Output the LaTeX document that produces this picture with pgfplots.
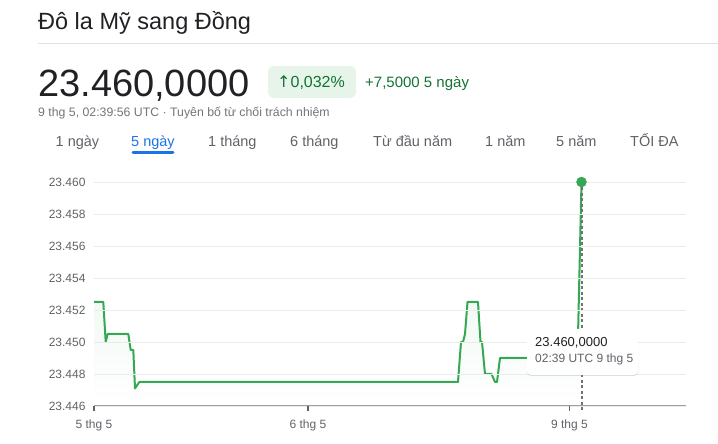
\documentclass[border=0pt]{standalone}
\usepackage{fontspec}
\setmainfont{Liberation Sans}
\newfontfamily\symfont{DejaVu Sans}
\usepackage{pgfplots}
\pgfplotsset{compat=1.18}
\usepackage{pgfplotstable}
\usetikzlibrary{shadows}

\definecolor{textdark}{HTML}{202124}
\definecolor{textgray}{HTML}{5F6368}
\definecolor{subgray}{HTML}{70757A}
\definecolor{greentext}{HTML}{137333}
\definecolor{greenbox}{HTML}{E6F4EA}
\definecolor{tabblue}{HTML}{1A73E8}
\definecolor{lineGreen}{HTML}{34A853}
\definecolor{gridgray}{HTML}{EBEBEB}
\definecolor{axisgray}{HTML}{9AA0A6}
\definecolor{sepgray}{HTML}{E0E0E0}
\definecolor{dashgray}{HTML}{6F7378}

% x = position along the 5-day axis (0 = 5 thg 5)
\pgfplotstableread{
x y
0 23.4525
9.3 23.4525
11.7 23.4500
13.7 23.4505
34.3 23.4505
36.7 23.4495
39.3 23.4495
41 23.4471
45.3 23.4475
364 23.4475
367 23.4500
369 23.4500
371 23.4505
373.5 23.4525
384 23.4525
386.5 23.4500
388 23.4500
391 23.4480
397.5 23.4480
401 23.4475
403 23.4475
406 23.4490
483.5 23.4490
487.5 23.4600
}\rates

\begin{document}
\begin{tikzpicture}
\useasboundingbox (0,0) rectangle (718pt,444pt);
% header
\node[anchor=base west, inner sep=0, text=textdark, font=\fontsize{23.5}{26}\selectfont] at (38pt,414pt) {Đô la Mỹ sang Đồng};
\draw[sepgray, line width=1pt] (38pt,400pt) -- (718pt,400pt);
\node[anchor=base west, inner sep=0, text=textdark, font=\fontsize{38}{40}\selectfont] at (38pt,347.3pt) {23.460,0000};
\fill[greenbox, rounded corners=6pt] (268pt,346pt) rectangle (356pt,378pt);
\node[anchor=base west, inner sep=0, text=greentext, font=\fontsize{16}{18}\selectfont] at (277pt,356pt) {{\symfont ↑}0,032\%};
\node[anchor=base west, inner sep=0, text=greentext, font=\fontsize{15}{18}\selectfont] at (365pt,356pt) {+7,5000 5 ngày};
\node[anchor=base west, inner sep=0, text=subgray, font=\fontsize{12.3}{14}\selectfont] at (38pt,327pt) {9 thg 5, 02:39:56 UTC · Tuyên bố từ chối trách nhiệm};
% tabs
\begin{scope}[every node/.style={anchor=base west, inner sep=0, text=textgray, font=\fontsize{14.5}{17}\selectfont}]
\node at (55.5pt,297pt) {1 ngày};
\node[text=tabblue] at (131pt,297pt) {5 ngày};
\node at (208pt,297pt) {1 tháng};
\node at (290pt,297pt) {6 tháng};
\node at (373pt,297pt) {Từ đầu năm};
\node at (485pt,297pt) {1 năm};
\node at (556pt,297pt) {5 năm};
\node at (630pt,297pt) {TỐI ĐA};
\end{scope}
\draw[tabblue, line width=3pt, line cap=round] (133pt,291pt) -- (173pt,291pt);

\begin{axis}[
  at={(94pt,38pt)}, anchor=south west,
  scale only axis, width=592pt, height=224pt,
  xmin=0, xmax=592, ymin=23.446, ymax=23.460,
  clip=false, axis on top,
  axis x line*=bottom, axis y line*=left,
  x axis line style={axisgray, line width=1pt, -},
  y axis line style={draw=none},
  ymajorgrids, grid style={gridgray, line width=0.9pt},
  ytick={23.446,23.448,...,23.4605},
  xtick={0,214,475.5},
  xticklabels={5 thg 5, 6 thg 5, 9 thg 5},
  tick align=outside, major tick length=5pt,
  xtick style={textgray, line width=1.2pt},
  ytick style={draw=none},
  /pgf/number format/assume math mode=true,
  /pgf/number format/.cd, fixed, fixed zerofill, precision=3, 1000 sep={},
  /pgfplots/.cd,
  tick label style={text=textgray, font=\fontsize{12}{14}\selectfont},
  yticklabel style={anchor=east, xshift=0pt},
  xticklabel style={yshift=-5pt},
]
\addplot[draw=none, top color=lineGreen!14, bottom color=white] table[x=x,y=y] {\rates} |- (axis cs:0,23.446) -- cycle;
\addplot[lineGreen, line width=2pt, line join=round] table[x=x,y=y] {\rates};
\draw[dashgray, line width=1.8pt, dash pattern=on 3pt off 2.5pt] (axis cs:488.3,23.460) -- (axis cs:488.3,23.446) -- ++(0pt,-7pt);
\addplot[only marks, mark=*, mark size=5pt, lineGreen] coordinates {(487.5,23.460)};
\end{axis}

% tooltip
\fill[white, rounded corners=4pt, drop shadow={shadow xshift=0pt, shadow yshift=-1pt, opacity=0.25}] (527pt,69pt) rectangle (638pt,115pt);
\node[anchor=base west, inner sep=0, text=textdark, font=\fontsize{13}{15}\selectfont] at (535pt,97pt) {23.460,0000};
\node[anchor=base west, inner sep=0, text=textgray, font=\fontsize{12}{14}\selectfont] at (535pt,81pt) {02:39 UTC 9 thg 5};
\end{tikzpicture}
\end{document}
